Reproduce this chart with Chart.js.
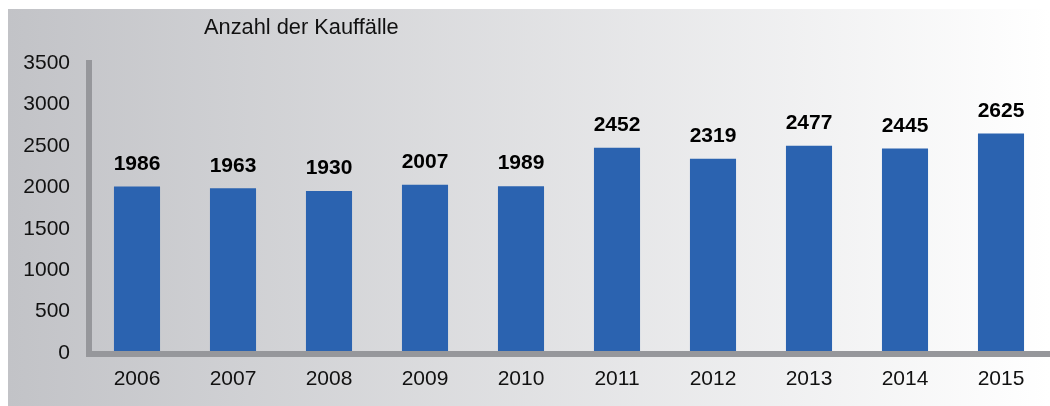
<!DOCTYPE html>
<html>
<head>
<meta charset="utf-8">
<script src="https://cdn.jsdelivr.net/npm/chart.js@4/dist/chart.umd.min.js"></script>
<style>
html,body{margin:0;padding:0;background:#fff;}
#wrap{width:1050px;height:406px;position:relative;}
</style>
</head>
<body>
<div id="wrap"><canvas id="c" width="1050" height="406"></canvas></div>
<script>
const years = ["2006","2007","2008","2009","2010","2011","2012","2013","2014","2015"];
const purchases = [1986,1963,1930,2007,1989,2452,2319,2477,2445,2625];
const yTicks = [0,500,1000,1500,2000,2500,3000,3500];
const chartTitle = "Anzahl der Kauffälle";

const FONT = "'Liberation Sans', Arial, sans-serif";

const bgPlugin = {
  id: 'bg',
  beforeDraw(chart) {
    const ctx = chart.ctx;
    ctx.save();
    ctx.fillStyle = '#ffffff';
    ctx.fillRect(0, 0, chart.width, chart.height);
    const g = ctx.createLinearGradient(8, 0, chart.width, 0);
    g.addColorStop(0, '#c2c3c7');
    g.addColorStop(1, '#ffffff');
    ctx.fillStyle = g;
    ctx.fillRect(8, 9, chart.width - 8, chart.height - 9);
    ctx.restore();
  }
};

const axisPlugin = {
  id: 'axisLines',
  afterDatasetsDraw(chart) {
    const ctx = chart.ctx;
    const a = chart.chartArea;
    const ys = chart.scales.y;
    ctx.save();
    ctx.fillStyle = '#96979b';
    const top = ys.getPixelForValue(3500) - 1;
    ctx.fillRect(a.left - 3, top, 6, a.bottom + 6 - top);
    ctx.fillRect(a.left - 3, a.bottom, chart.width - (a.left - 3), 6);
    // title
    ctx.fillStyle = '#111';
    ctx.font = "21.8px " + FONT;
    ctx.textAlign = 'left';
    ctx.textBaseline = 'middle';
    ctx.fillText(chartTitle, 204, 28);
    // value labels
    ctx.font = "bold 21px " + FONT;
    ctx.textAlign = 'center';
    ctx.textBaseline = 'bottom';
    ctx.fillStyle = '#000';
    const meta = chart.getDatasetMeta(0);
    meta.data.forEach((bar, i) => {
      ctx.fillText(String(purchases[i]), bar.x, bar.y - 12);
    });
    ctx.restore();
  }
};

new Chart(document.getElementById('c'), {
  type: 'bar',
  data: {
    labels: years,
    datasets: [{
      data: purchases,
      backgroundColor: '#2b63b0',
      borderWidth: 0,
      barPercentage: 0.48,
      categoryPercentage: 1.0
    }]
  },
  options: {
    responsive: false,
    animation: false,
    devicePixelRatio: 1,
    layout: { padding: { top: 61, right: 1, left: 0, bottom: 0 } },
    plugins: {
      legend: { display: false },
      tooltip: { enabled: false },
      title: { display: false }
    },
    scales: {
      x: {
        grid: { display: false, drawTicks: false },
        border: { display: false },
        ticks: { color: '#111', font: { size: 21, family: FONT }, padding: 16, maxRotation: 0 },
        afterFit(s) { s.height = 55; }
      },
      y: {
        min: 0, max: 3500,
        afterBuildTicks(s) { s.ticks = yTicks.map(v => ({ value: v })); },
        grid: { display: false, drawTicks: false },
        border: { display: false },
        ticks: {
          color: '#111', font: { size: 21, family: FONT }, padding: 19, labelOffset: 2,
          callback: (v) => String(v)
        },
        afterFit(s) { s.width = 89; }
      }
    }
  },
  plugins: [bgPlugin, axisPlugin]
});
</script>
</body>
</html>
